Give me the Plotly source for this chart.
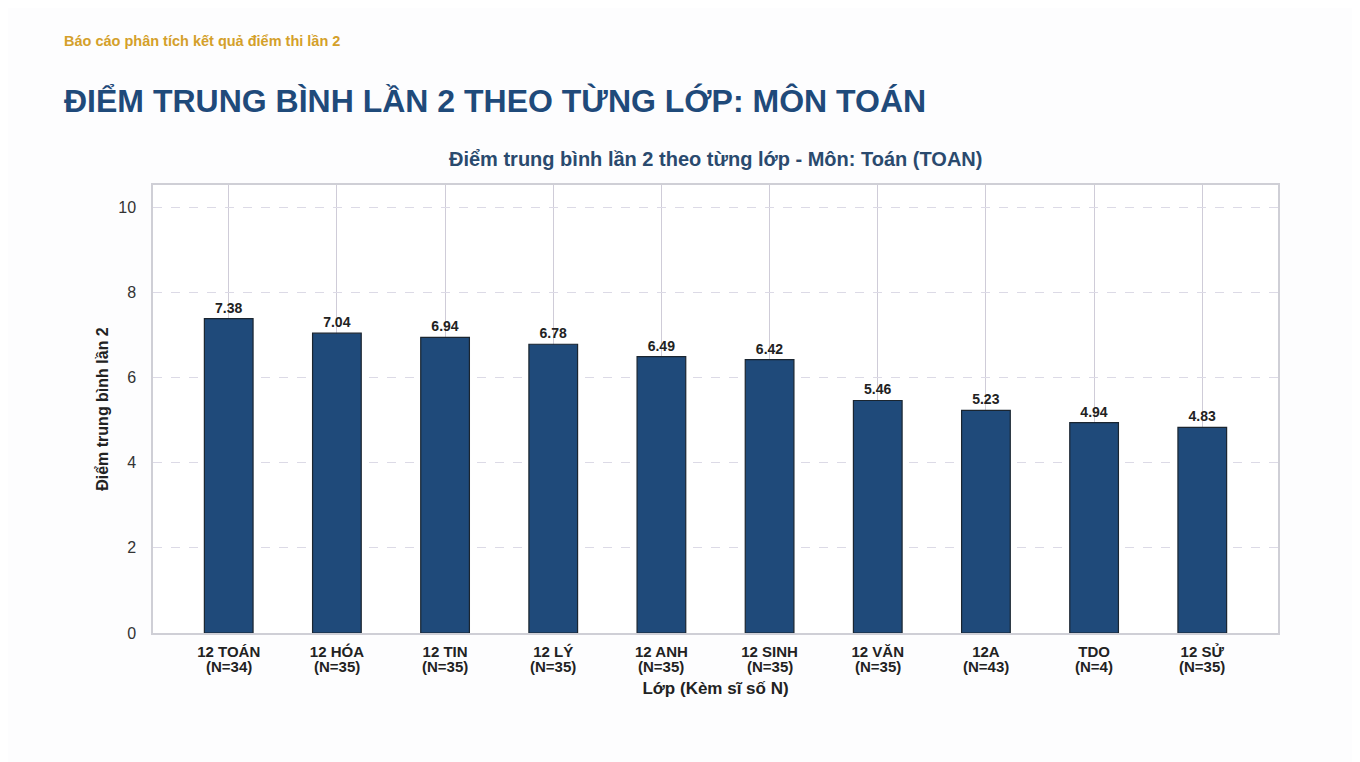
import plotly.graph_objects as go

# class labels, class sizes and mean scores (round 2, math)
classes = ["12 TOÁN", "12 HÓA", "12 TIN", "12 LÝ", "12 ANH", "12 SINH", "12 VĂN", "12A", "TDO", "12 SỬ"]
sizes = [34, 35, 35, 35, 35, 35, 35, 43, 4, 35]
scores = [7.38, 7.04, 6.94, 6.78, 6.49, 6.42, 5.46, 5.23, 4.94, 4.83]

y_ticks = [0, 2, 4, 6, 8, 10]

font = "Liberation Sans, Arial, sans-serif"
navy = "#1f4a7a"

# the page body adds 8px, so margins are shifted to keep the plot in place
top, left = 177, 145
plot_w, plot_h = 1125, 448

xs = list(range(len(classes)))

fig = go.Figure()

fig.add_trace(go.Bar(
    x=xs,
    y=scores,
    width=0.45,
    marker=dict(color=navy, line=dict(color="#1a2530", width=1.2)),
    texttemplate="<b>%{y:.2f}</b>",
    textposition="outside",
    textfont=dict(size=14, color="#222222", family=font),
    cliponaxis=False,
    showlegend=False,
))

fig.update_layout(
    width=1360, height=762,
    paper_bgcolor="#fdfdfe",
    plot_bgcolor="#ffffff",
    font=dict(family=font, color="#333333"),
    margin=dict(l=left, r=1360 - left - plot_w, t=top, b=762 - top - plot_h),
)

fig.update_xaxes(
    tickmode="array",
    tickvals=xs,
    ticktext=["<b>%s</b>" % c for c in classes],
    range=[-0.7, 9.7],
    tickfont=dict(size=15, color="#222222"),
    ticklabelstandoff=4,
    showgrid=True, gridcolor="#cfccd8", gridwidth=1,
    showline=True, linecolor="#cfcfd6", linewidth=1.5, mirror=True,
    ticks="",
    title=dict(text="<b>Lớp (Kèm sĩ số N)</b>", font=dict(size=17, color="#222222"), standoff=23),
    zeroline=False,
)

fig.update_yaxes(
    range=[0, 10.52],
    tickvals=y_ticks,
    tickfont=dict(size=16, color="#333333"),
    ticklabelstandoff=12,
    showgrid=True, gridcolor="#dcdae6", griddash="dash", gridwidth=1,
    showline=True, linecolor="#cfcfd6", linewidth=1.5, mirror=True,
    ticks="",
    title=dict(text="<b>Điểm trung bình lần 2</b>", font=dict(size=16, color="#222222"), standoff=6),
    zeroline=False,
)

# second line of each tick label: class size
for x, n in zip(xs, sizes):
    fig.add_annotation(
        x=x, xref="x", y=0, yref="paper",
        text="<b>(N=%d)</b>" % n,
        showarrow=False, xanchor="center", yanchor="middle",
        yshift=-33,
        font=dict(size=15, color="#222222", family=font),
    )

fig.add_annotation(
    xref="paper", yref="paper",
    x=(62 - 153) / plot_w, y=1 + (185 - 41) / plot_h,
    text="<b>Báo cáo phân tích kết quả điểm thi lần 2</b>",
    showarrow=False, xanchor="left", yanchor="middle",
    font=dict(size=14.5, color="#d4a02a", family=font),
)
fig.add_annotation(
    xref="paper", yref="paper",
    x=(62 - 153) / plot_w, y=1 + (185 - 101) / plot_h,
    text="<b>ĐIỂM TRUNG BÌNH LẦN 2 THEO TỪNG LỚP: MÔN TOÁN</b>",
    showarrow=False, xanchor="left", yanchor="middle",
    font=dict(size=32, color=navy, family=font),
)
fig.add_annotation(
    xref="paper", yref="paper",
    x=(715 - 153) / plot_w, y=1 + (185 - 159) / plot_h,
    text="<b>Điểm trung bình lần 2 theo từng lớp - Môn: Toán (TOAN)</b>",
    showarrow=False, xanchor="center", yanchor="middle",
    font=dict(size=20, color="#2a4a6e", family=font),
)

fig.write_html("out.html")
